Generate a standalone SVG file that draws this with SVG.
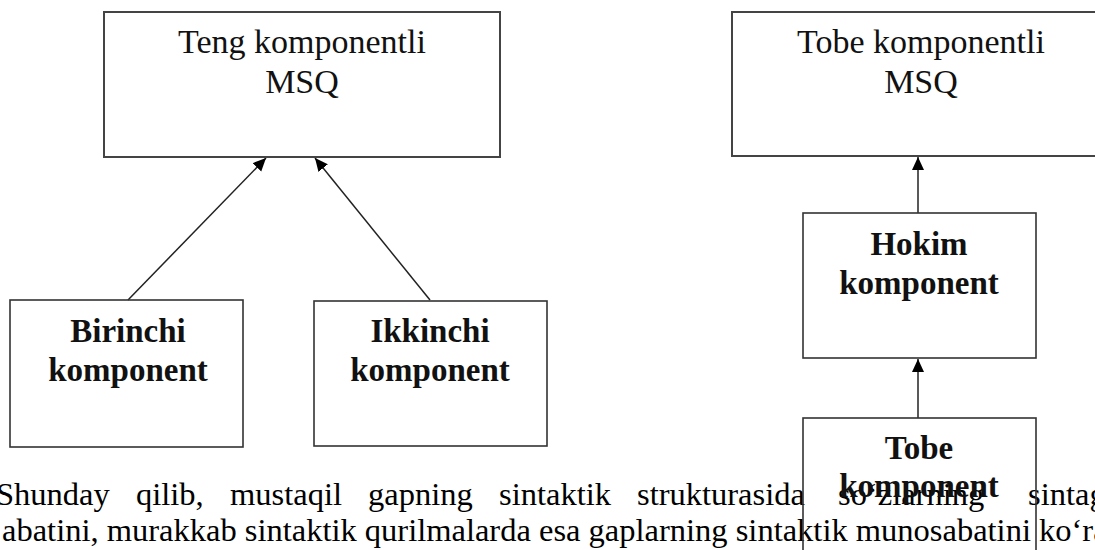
<svg xmlns="http://www.w3.org/2000/svg" width="1095" height="550" viewBox="0 0 1095 550">
<style>
.box{fill:none;stroke:#333;stroke-width:1.6}
.top{fill:none;stroke:#444;stroke-width:2}
text{font-family:"Times New Roman","Liberation Serif","DejaVu Serif",serif}
.reg{font-size:34px;fill:#111;text-anchor:middle}
.bold{font-size:33px;font-weight:bold;fill:#111;text-anchor:middle}
.para{font-size:32.5px;fill:#000}
.edge{stroke:#222;stroke-width:1.5;fill:none}
</style>
<defs>
<marker id="arr" markerUnits="userSpaceOnUse" markerWidth="14" markerHeight="14" viewBox="0 0 14 14" refX="13" refY="7" orient="auto">
<path d="M0,1 L13,7 L0,13 Z" fill="#000"/>
</marker>
</defs>
<rect width="1095" height="550" fill="#fff"/>
<g id="paragraph">
<text class="para" x="-4" y="505">Shunday</text>
<text class="para" x="136" y="505">qilib,</text>
<text class="para" x="230" y="505">mustaqil</text>
<text class="para" x="368" y="505">gapning</text>
<text class="para" x="499" y="505">sintaktik</text>
<text class="para" x="637" y="505">strukturasida</text>
<text class="para" x="838" y="505">so‘zlarning</text>
<text class="para" x="1028" y="505">sintagm</text>
<text class="para" x="2" y="541">abatini, murakkab sintaktik qurilmalarda esa gaplarning sintaktik munosabatini ko‘ra</text>
</g>
<g id="connectors">
<line class="edge" x1="128" y1="300" x2="266" y2="158" marker-end="url(#arr)"/>
<line class="edge" x1="430" y1="300" x2="315" y2="158" marker-end="url(#arr)"/>
<line class="edge" x1="918" y1="213" x2="918" y2="157" marker-end="url(#arr)"/>
<line class="edge" x1="918" y1="418" x2="918" y2="359" marker-end="url(#arr)"/>
</g>
<g id="teng">
<rect class="top" x="104" y="12" width="396" height="145"/>
<text class="reg" x="302" y="53">Teng komponentli</text>
<text class="reg" x="302" y="93">MSQ</text>
</g>
<g id="tobe-msq">
<rect class="top" x="732" y="12" width="378" height="144"/>
<text class="reg" x="921" y="53">Tobe komponentli</text>
<text class="reg" x="921" y="93">MSQ</text>
</g>
<g id="birinchi">
<rect class="box" x="10" y="300" width="233" height="147"/>
<text class="bold" x="128" y="342">Birinchi</text>
<text class="bold" x="128" y="381">komponent</text>
</g>
<g id="ikkinchi">
<rect class="box" x="314" y="301" width="233" height="145"/>
<text class="bold" x="430" y="342">Ikkinchi</text>
<text class="bold" x="430" y="381">komponent</text>
</g>
<g id="hokim">
<rect class="box" x="803" y="213" width="233" height="145"/>
<text class="bold" x="919" y="255">Hokim</text>
<text class="bold" x="919" y="294">komponent</text>
</g>
<g id="tobe">
<rect class="box" x="803" y="418" width="233" height="145"/>
<text class="bold" x="919" y="459">Tobe</text>
<text class="bold" x="919" y="497">komponent</text>
</g>
</svg>
